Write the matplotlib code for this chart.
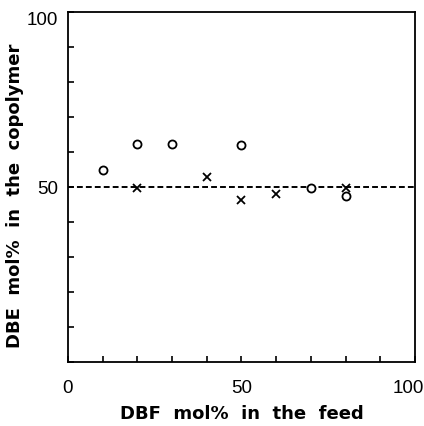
import matplotlib
matplotlib.use('Agg')
import matplotlib.pyplot as plt
import matplotlib.transforms as mtransforms
import numpy as np

# DBF mol% in feed vs DBE mol% in copolymer
circle_x = [10, 20, 30, 50, 70, 80]
circle_y = [55.0, 62.2, 62.2, 62.0, 49.8, 47.5]
cross_x = [20, 40, 50, 60, 80]
cross_y = [49.6, 52.9, 46.2, 48.0, 49.6]
ref_level = 50

x_ticks = np.arange(0, 101, 10)
y_ticks = np.arange(0, 101, 10)
x_labels = {0: '0', 50: '50', 100: '100'}
y_labels = {50: '50', 100: '100'}

fig = plt.figure(figsize=(4.24, 4.26), dpi=100)
ax = fig.add_axes([0.160, 0.150, 0.819, 0.822])

ax.axhline(ref_level, color='black', lw=1.4, ls=(0, (3, 1.6)))
ax.plot(circle_x, circle_y, 'o', mfc='white', mec='black', ms=5.8, mew=1.3, zorder=3)
ax.plot(cross_x, cross_y, 'x', color='black', ms=5.5, mew=1.3, zorder=3)

ax.set_xlim(0, 100)
ax.set_ylim(0, 100)
ax.set_xticks(x_ticks)
ax.set_yticks(y_ticks)
ax.set_xticklabels([x_labels.get(int(v), '') for v in x_ticks],
                   family='Liberation Sans', fontsize=13.5)
ax.set_yticklabels([y_labels.get(int(v), '') for v in y_ticks],
                   family='Liberation Sans', fontsize=13.5)
ax.tick_params(direction='in', length=4, width=1.2)
ax.tick_params(axis='x', pad=13)
ax.tick_params(axis='y', pad=7)

# nudge the end labels like the original
shift = mtransforms.ScaledTranslation(-7 / 100, 0, fig.dpi_scale_trans)
xl = ax.get_xticklabels()[-1]
xl.set_transform(xl.get_transform() + shift)
ax.get_yticklabels()[-1].set_va('top')

for s in ax.spines.values():
    s.set_linewidth(1.3)

ax.set_xlabel('DBF  mol%  in  the  feed', fontsize=13, fontweight='bold', labelpad=6)
ax.set_ylabel('DBE  mol%  in  the  copolymer', fontsize=13, fontweight='bold')
ax.yaxis.set_label_coords(-0.125, 0.475)

fig.savefig('out.png', dpi=100)
